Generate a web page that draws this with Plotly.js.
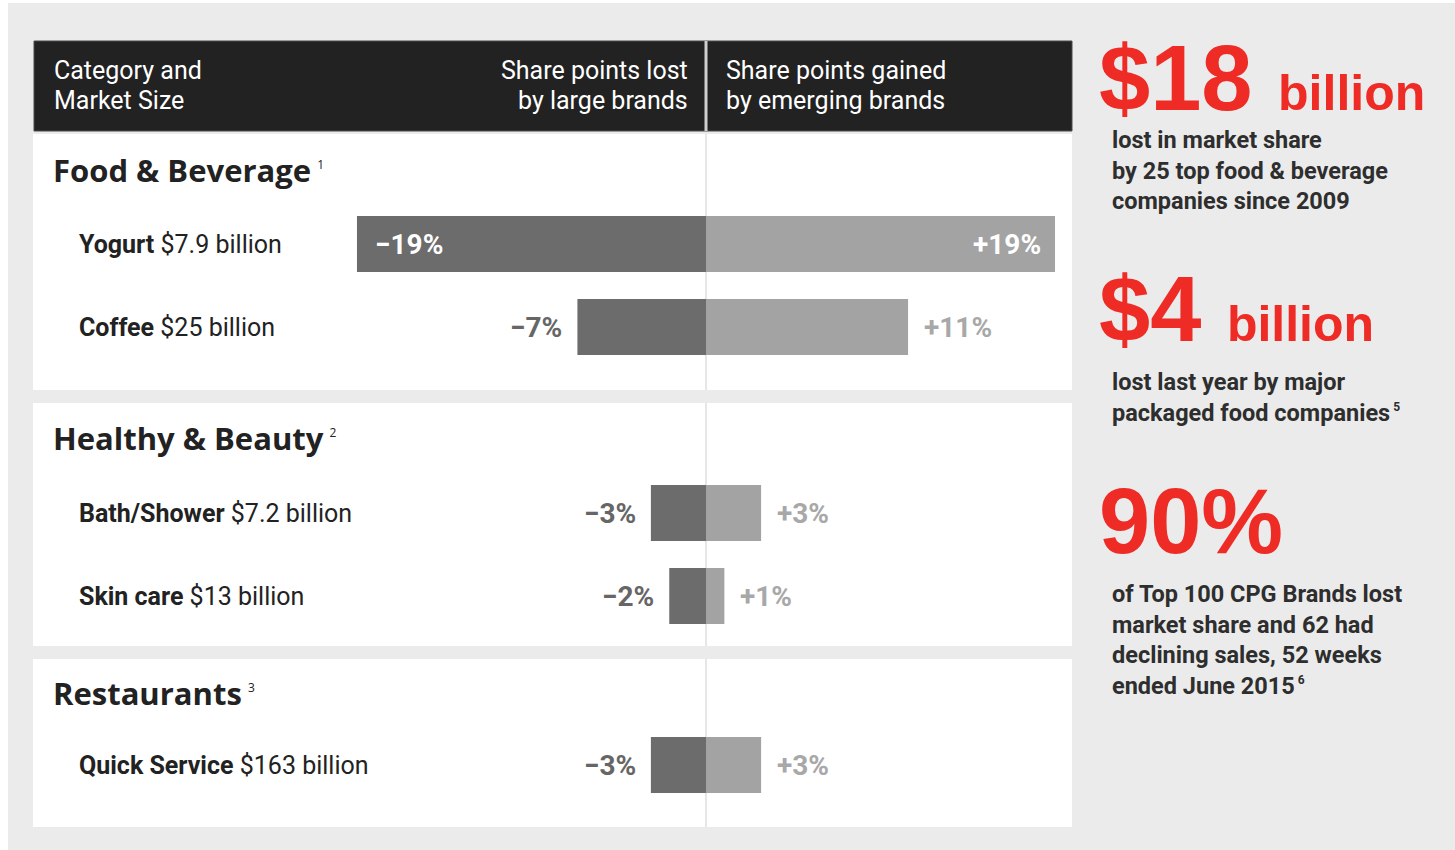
<!DOCTYPE html>
<html>
<head>
<meta charset="utf-8">
<script src="https://cdn.plot.ly/plotly-3.0.1.min.js"></script>
<style>
  html, body { margin: 0; padding: 0; background: #ffffff; }
  #chart { width: 1455px; height: 850px; }
</style>
</head>
<body>
<div id="chart"></div>
<script>
// ---------------- DATA ----------------
const categories = ['Yogurt', 'Coffee', 'Bath/Shower', 'Skin care', 'Quick Service'];
const marketSizes = ['$7.9 billion', '$25 billion', '$7.2 billion', '$13 billion', '$163 billion'];
const lostByLargeBrands = [19, 7, 3, 2, 3];          // share points lost
const gainedByEmergingBrands = [19, 11, 3, 1, 3];    // share points gained
const sectionNames = ['Food & Beverage', 'Healthy & Beauty', 'Restaurants'];
const sectionNotes = ['1', '2', '3'];
const headerLabels = ['Category and<br>Market Size', 'Share points lost<br>by large brands', 'Share points gained<br>by emerging brands'];
const statValues = ['$18', '$4', '90%'];
const statUnits = ['billion', 'billion', ''];
const statTexts = [
  'lost in market share<br>by 25 top food & beverage<br>companies since 2009',
  'lost last year by major<br>packaged food companies<sup><span style="font-size:12px"> 5</span></sup>',
  'of Top 100 CPG Brands lost<br>market share and 62 had<br>declining sales, 52 weeks<br>ended June 2015<sup><span style="font-size:12px"> 6</span></sup>'
];

// ---------------- LAYOUT (pixel geometry) ----------------
const W = 1455, H = 850;
const ZERO_PX = 706;           // pixel position of the 0 line
const PX_PER_POINT = 18.37;    // horizontal scale
const panels = [{top: 134, bottom: 390}, {top: 403, bottom: 646}, {top: 659, bottom: 827}];
const titleCenters = [170, 438, 693];
const rowCenters = [244, 327, 513, 596, 765];
const PANEL_L = 33, PANEL_R = 1072;
const px2x = p => (p - ZERO_PX) / PX_PER_POINT;

const DARK = '#6c6c6c', LIGHT = '#a3a3a3', RED = '#ee2b24', TXT = '#222222';
const minus = '\u2212';

const traces = [
  {
    type: 'bar', orientation: 'h', name: 'lost',
    x: lostByLargeBrands.map(v => -v), y: rowCenters, base: 0, width: 56,
    marker: {color: DARK, line: {width: 0}}, hoverinfo: 'skip'
  },
  {
    type: 'bar', orientation: 'h', name: 'gained',
    x: gainedByEmergingBrands, y: rowCenters, base: 0, width: 56,
    marker: {color: LIGHT, line: {width: 0}}, hoverinfo: 'skip'
  }
];

const shapes = [
  // white edges of the image
  {type: 'rect', xref: 'paper', yref: 'y', x0: 0, x1: 8 / W, y0: 0, y1: H, fillcolor: '#ffffff', line: {width: 0}, layer: 'below'},
  {type: 'rect', xref: 'paper', yref: 'y', x0: 0, x1: 1, y0: 0, y1: 3, fillcolor: '#ffffff', line: {width: 0}, layer: 'below'},
  // header bar
  {type: 'rect', xref: 'x', yref: 'y', x0: px2x(34), x1: px2x(PANEL_R), y0: 41, y1: 131, fillcolor: '#222222', line: {color: '#4a4a4a', width: 1}, layer: 'below'},
];
panels.forEach(p => shapes.push({type: 'rect', xref: 'x', yref: 'y', x0: px2x(PANEL_L), x1: px2x(PANEL_R), y0: p.top, y1: p.bottom, fillcolor: '#ffffff', line: {width: 0}, layer: 'below'}));
// header divider
shapes.push({type: 'line', xref: 'x', yref: 'y', x0: 0, x1: 0, y0: 41, y1: 131, line: {color: '#cfcfcf', width: 3}, layer: 'below'});
// center line through panels
panels.forEach(p => shapes.push({type: 'line', xref: 'x', yref: 'y', x0: 0, x1: 0, y0: p.top, y1: p.bottom, line: {color: '#e6e6e6', width: 2}, layer: 'below'}));

const annotations = [];
const ann = o => annotations.push(Object.assign({xref: 'x', yref: 'y', showarrow: false, align: 'left', borderpad: 0}, o));

// header labels (one annotation per line for exact line spacing)
const HF = {family: 'Roboto', size: 25, color: '#ffffff'};
const headerX = [53, 689, 725];
const headerAnchor = ['left', 'right', 'left'];
const headerLineY = [70, 100];
headerLabels.forEach((lbl, i) => {
  lbl.split('<br>').forEach((line, j) => ann({
    x: px2x(headerX[i]), y: headerLineY[j], xanchor: headerAnchor[i], yanchor: 'middle',
    align: headerAnchor[i], text: line, font: HF
  }));
});

// section titles
sectionNames.forEach((s, i) => ann({
  x: px2x(52), y: titleCenters[i], xanchor: 'left', yanchor: 'middle',
  text: '<b>' + s.replace('&', '&amp;') + '</b><sup><span style="font-size:12px;font-weight:normal">  ' + sectionNotes[i] + '</span></sup>',
  font: {family: 'Open Sans', size: 31, color: TXT}
}));

// row labels
categories.forEach((c, i) => ann({
  x: px2x(78), y: rowCenters[i], xanchor: 'left', yanchor: 'middle',
  text: '<b>' + c + '</b> ' + marketSizes[i],
  font: {family: 'Roboto', size: 25, color: TXT}
}));

// value labels
const INSIDE_MIN = 15;
lostByLargeBrands.forEach((v, i) => {
  const inside = v >= INSIDE_MIN;
  ann({
    x: -v, y: rowCenters[i], xanchor: inside ? 'left' : 'right', yanchor: 'middle',
    xshift: inside ? 17 : -14,
    text: '<b>' + minus + v + '%</b>',
    font: {family: 'Roboto', size: 28, color: inside ? '#ffffff' : '#666666'}
  });
});
gainedByEmergingBrands.forEach((v, i) => {
  const inside = v >= INSIDE_MIN;
  ann({
    x: v, y: rowCenters[i], xanchor: inside ? 'right' : 'left', yanchor: 'middle',
    xshift: inside ? -13 : 15,
    text: '<b>+' + v + '%</b>',
    font: {family: 'Roboto', size: 28, color: inside ? '#ffffff' : '#a8a8a8'}
  });
});

// right-hand statistics
const statBigCenters = [78, 309, 521];
const statTextTops = [125, 367, 579];
statValues.forEach((s, i) => {
  ann({
    xref: 'paper', x: 1098 / W, y: statBigCenters[i], xanchor: 'left', yanchor: 'middle',
    height: 88, valign: 'middle',
    text: '<b>' + s + (statUnits[i] ? ' <span style="font-size:50px">' + statUnits[i] + '</span>' : '') + '</b>',
    font: {family: 'Liberation Sans', size: 92, color: RED}
  });
  ann({
    xref: 'paper', x: 1111 / W, y: statTextTops[i], xanchor: 'left', yanchor: 'top',
    text: '<b>' + statTexts[i].replace(' & ', ' &amp; ') + '</b>',
    font: {family: 'Roboto', size: 23.5, color: '#2e2e2e'}
  });
});

const layout = {
  width: W, height: H,
  margin: {l: 0, r: 0, t: 0, b: 0, pad: 0},
  paper_bgcolor: '#ebebeb', plot_bgcolor: 'rgba(0,0,0,0)',
  showlegend: false, barmode: 'relative',
  xaxis: {range: [px2x(0), px2x(W)], visible: false, fixedrange: true, zeroline: false, showgrid: false},
  yaxis: {range: [H, 0], visible: false, fixedrange: true, zeroline: false, showgrid: false},
  shapes: shapes, annotations: annotations
};

Plotly.newPlot('chart', traces, layout, {displayModeBar: false, staticPlot: true});
</script>
</body>
</html>
